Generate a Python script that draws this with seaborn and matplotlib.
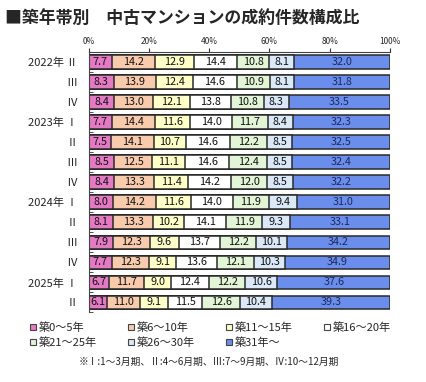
import matplotlib
matplotlib.use('Agg')
import matplotlib.pyplot as plt
from matplotlib.lines import Line2D
import numpy as np
import pandas as pd
import seaborn as sns

sns.set_style('white')
plt.rcParams['font.family'] = ['Noto Sans CJK JP', 'DejaVu Sans']

periods = ['2022年 Ⅱ', 'Ⅲ', 'Ⅳ', '2023年 Ⅰ', 'Ⅱ', 'Ⅲ', 'Ⅳ',
           '2024年 Ⅰ', 'Ⅱ', 'Ⅲ', 'Ⅳ', '2025年 Ⅰ', 'Ⅱ']
age_bands = ['築0～5年', '築6～10年', '築11～15年', '築16～20年',
             '築21～25年', '築26～30年', '築31年～']
age_0_5 = [7.7, 8.3, 8.4, 7.7, 7.5, 8.5, 8.4, 8.0, 8.1, 7.9, 7.7, 6.7, 6.1]
age_6_10 = [14.2, 13.9, 13.0, 14.4, 14.1, 12.5, 13.3, 14.2, 13.3, 12.3, 12.3, 11.7, 11.0]
age_11_15 = [12.9, 12.4, 12.1, 11.6, 10.7, 11.1, 11.4, 11.6, 10.2, 9.6, 9.1, 9.0, 9.1]
age_16_20 = [14.4, 14.6, 13.8, 14.0, 14.6, 14.6, 14.2, 14.0, 14.1, 13.7, 13.6, 12.4, 11.5]
age_21_25 = [10.8, 10.9, 10.8, 11.7, 12.2, 12.4, 12.0, 11.9, 11.9, 12.2, 12.1, 12.2, 12.6]
age_26_30 = [8.1, 8.1, 8.3, 8.4, 8.5, 8.5, 8.5, 9.4, 9.3, 10.1, 10.3, 10.6, 10.4]
age_31_up = [32.0, 31.8, 33.5, 32.3, 32.5, 32.4, 32.2, 31.0, 33.1, 34.2, 34.9, 37.6, 39.3]

colors = ['#e57ac4', '#f8cbad', '#ffffc8', '#ffffff', '#e2f5d6', '#dae8f8', '#6b8eec']

values = np.array([age_0_5, age_6_10, age_11_15, age_16_20,
                   age_21_25, age_26_30, age_31_up]).T
cum = np.cumsum(values, axis=1)
row_ids = [f'r{i}' for i in range(len(periods))]
df = pd.DataFrame(cum, columns=age_bands)
df['row'] = row_ids

fig = plt.figure(figsize=(4.27, 3.82), dpi=100)
ax = fig.add_axes([0.208, 0.182, 0.705, 0.682])

# stacked bars: draw cumulative totals from the last band down
for i in reversed(range(len(age_bands))):
    sns.barplot(data=df, x=age_bands[i], y='row', order=row_ids, orient='h',
                color=colors[i], saturation=1, edgecolor='#2a2a2a',
                linewidth=1.1, width=0.68, ax=ax)

for r in range(len(periods)):
    for i in range(len(age_bands)):
        v = values[r, i]
        c = cum[r, i] - v / 2
        ax.text(c, r, f'{v:.1f}', ha='center', va='center', fontsize=7.8,
                color='#1c2a5a' if i == 6 else '#111111')

ax.set_xlim(0, 100)
ax.xaxis.tick_top()
ax.set_xticks(range(0, 101, 20))
ax.set_xticklabels([f'{t}%' for t in range(0, 101, 20)], fontsize=6)
ax.tick_params(axis='x', direction='out', length=3, pad=1, color='#333333', top=True)
ax.set_yticks(range(len(periods)))
ax.set_yticklabels(periods, fontsize=8)
ax.set_yticks(np.arange(-0.5, len(periods), 1), minor=True)
ax.tick_params(axis='y', which='major', length=0, pad=8)
ax.tick_params(axis='y', which='minor', direction='in', length=3, left=True, color='#333333')
ax.set_xlabel('')
ax.set_ylabel('')
for s in ['right', 'bottom']:
    ax.spines[s].set_visible(False)
for s in ['top', 'left']:
    ax.spines[s].set_color('#444444')
    ax.spines[s].set_linewidth(0.8)

fig.text(0.012, 0.953, '■築年帯別　中古マンションの成約件数構成比', fontsize=12.2,
         fontweight='bold', va='center', ha='left')

handles = [Line2D([], [], marker='s', linestyle='none', markersize=5,
                  markerfacecolor=colors[i], markeredgecolor='#444444',
                  markeredgewidth=0.8) for i in range(len(age_bands))]
# legend fills column by column; reorder so it reads row by row
legend_order = [0, 4, 1, 5, 2, 6, 3]
fig.legend([handles[i] for i in legend_order], [age_bands[i] for i in legend_order],
           ncol=4, loc='upper left', bbox_to_anchor=(0.057, 0.167),
           frameon=False, fontsize=8, handletextpad=0.1, columnspacing=2.7,
           labelspacing=0.35, handlelength=0.8, borderaxespad=0)

fig.text(0.49, 0.052, '※Ⅰ:1～3月期、Ⅱ:4～6月期、Ⅲ:7～9月期、Ⅳ:10～12月期',
         fontsize=7, ha='center', va='center')

fig.savefig('out.png', dpi=100)
